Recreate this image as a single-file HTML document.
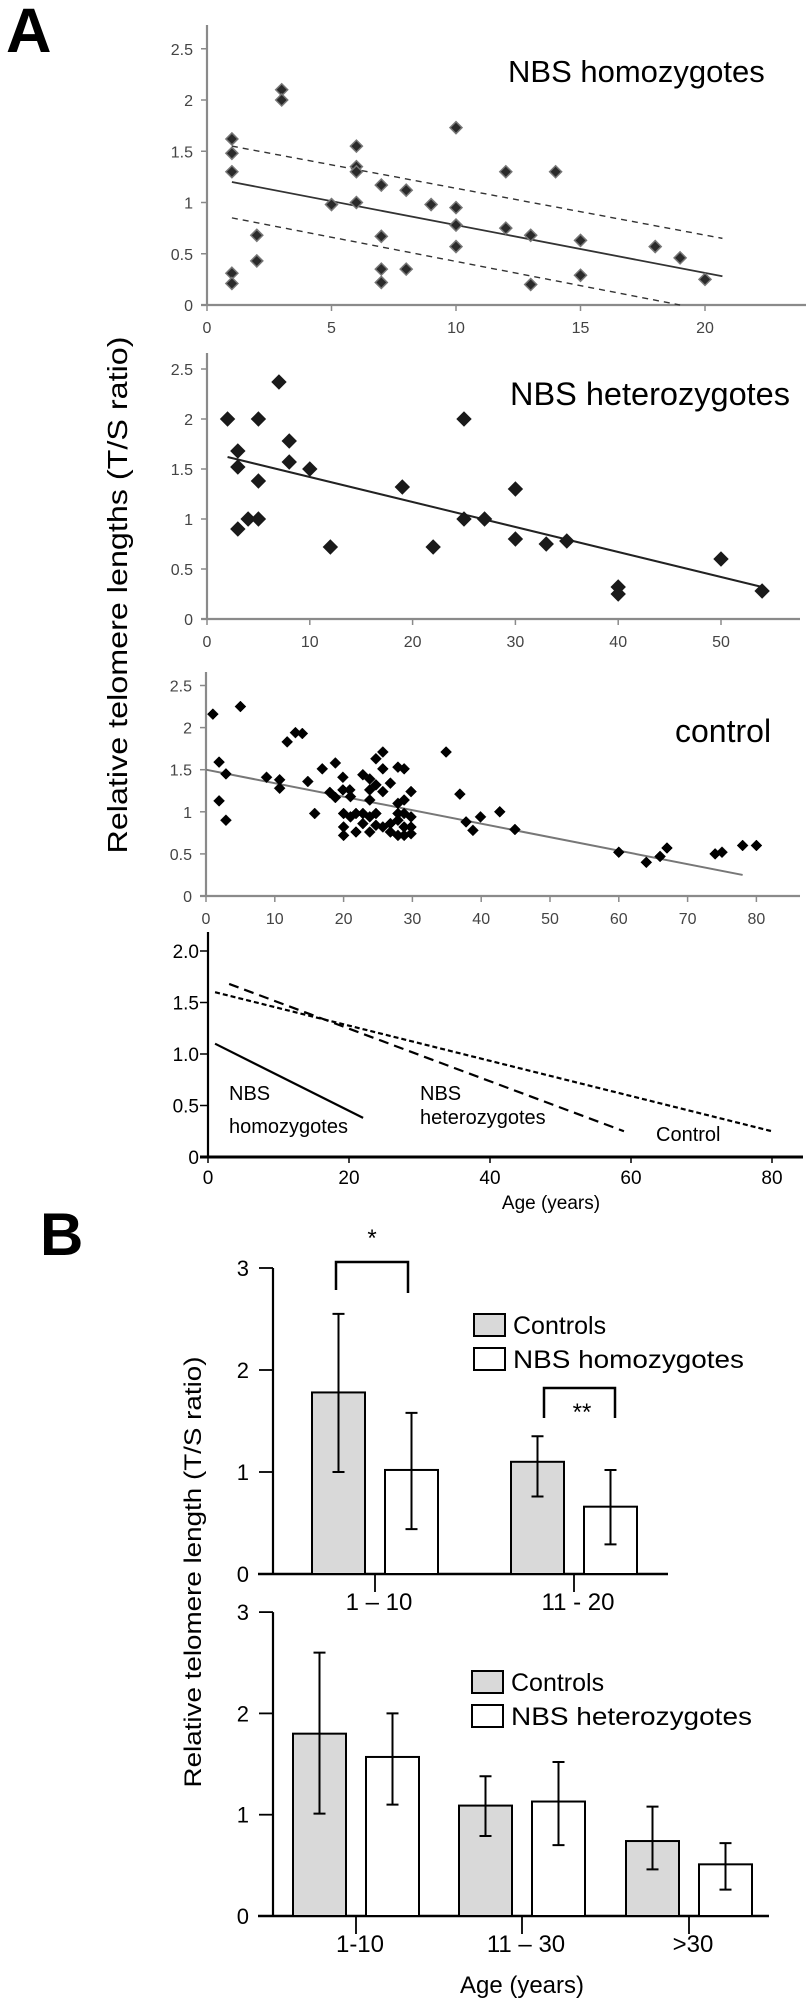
<!DOCTYPE html>
<html>
<head>
<meta charset="utf-8">
<style>
html,body{margin:0;padding:0;background:#fff;}
svg{display:block;}
text{font-family:"Liberation Sans",sans-serif;}
.nar{font-family:"Liberation Sans Narrow","Liberation Sans",sans-serif;}
</style>
</head>
<body>
<svg id="fig" width="806" height="2002" viewBox="0 0 806 2002" xmlns="http://www.w3.org/2000/svg">
  <text x="6" y="52" font-size="63" font-weight="bold">A</text>
  <text x="40" y="1255" font-size="60" font-weight="bold">B</text>
  <text transform="translate(127,595) rotate(-90)" text-anchor="middle" font-size="28" textLength="517" lengthAdjust="spacingAndGlyphs">Relative telomere lengths (T/S ratio)</text>
  <text transform="translate(201,1572) rotate(-90)" text-anchor="middle" font-size="24" textLength="431" lengthAdjust="spacingAndGlyphs">Relative telomere length (T/S ratio)</text>
  <g id="g1"></g>
  <g id="g2"></g>
  <g id="g3"></g>
  <g id="g4"></g>
  <g id="g5"></g>
  <g id="g6"></g>
</svg>
<script>
// ---- Panel A1: NBS homozygotes ----
const homAge = [1,1,1,1,1,2,2,3,3,5,6,6,6,6,7,7,7,7,8,8,9,10,10,10,10,12,12,13,13,14,15,15,18,19,20];
const homTS  = [1.62,1.48,1.3,0.31,0.21,0.68,0.43,2.1,2.0,0.98,1.55,1.35,1.3,1.0,1.17,0.67,0.35,0.22,1.12,0.35,0.98,1.73,0.95,0.78,0.57,1.3,0.75,0.68,0.2,1.3,0.63,0.29,0.57,0.46,0.25];
const homFitX = [1,20.7];
const homFitY = [1.2,0.28];
const homUpX = [1,20.7];
const homUpY = [1.55,0.65];
const homLoX = [1,19];
const homLoY = [0.85,0];
const homXTicks = [0,5,10,15,20];
const homYTicks = [0,0.5,1,1.5,2,2.5];
// ---- Panel A2: NBS heterozygotes ----
const hetAge = [2,3,3,3,4,5,5,5,7,8,8,10,12,19,22,25,25,27,30,30,33,35,40,40,50,54];
const hetTS  = [2.0,1.68,1.52,0.9,1.0,2.0,1.38,1.0,2.37,1.78,1.57,1.5,0.72,1.32,0.72,2.0,1.0,1.0,1.3,0.8,0.75,0.78,0.32,0.25,0.6,0.28];
const hetFitX = [2,54];
const hetFitY = [1.62,0.32];
const hetXTicks = [0,10,20,30,40,50];
const hetYTicks = [0,0.5,1,1.5,2,2.5];
// ---- Panel A3: controls ----
const ctlAge = [1,5,1.9,2.9,1.9,2.9,11.8,13,14,8.8,10.7,10.7,14.8,15.8,16.9,18.8,18,18.8,19.9,19.9,20.9,20,20,20,21,21,21.8,21.8,22.8,22.8,22.8,23.8,23.8,23.8,23.8,23.8,24.7,24.7,24.7,24.7,25.7,25.7,25.7,25.7,26.8,26.8,26.8,27.9,27.9,27.9,27.9,27.9,28.8,28.8,28.8,28.8,28.8,29.8,29.8,29.8,29.8,34.9,36.9,37.8,38.8,39.9,42.7,44.9,60,64,66,67,74,75,78,80];
const ctlTS  = [2.16,2.25,1.59,1.45,1.13,0.9,1.83,1.94,1.93,1.41,1.38,1.28,1.36,0.98,1.51,1.58,1.23,1.17,1.41,1.26,1.26,0.98,0.82,0.72,1.18,0.94,0.98,0.76,1.44,0.98,0.86,1.39,1.26,1.14,0.94,0.76,1.63,1.32,0.98,0.84,1.71,1.51,1.24,0.82,1.34,0.86,0.76,1.53,1.1,0.98,0.9,0.72,1.51,1.14,0.98,0.82,0.72,1.24,0.94,0.82,0.74,1.71,1.21,0.88,0.78,0.94,1.0,0.79,0.52,0.4,0.47,0.57,0.5,0.52,0.6,0.6];
const ctlFitX = [0,78];
const ctlFitY = [1.5,0.25];
const ctlXTicks = [0,10,20,30,40,50,60,70,80];
const ctlYTicks = [0,0.5,1,1.5,2,2.5];
// ---- Panel A4: regression comparison ----
const cmpHomX = [1,22];   const cmpHomY = [1.1,0.38];
const cmpHetX = [3,59];   const cmpHetY = [1.68,0.25];
const cmpCtlX = [1,80];   const cmpCtlY = [1.6,0.25];
const cmpXTicks = [0,20,40,60,80];
const cmpYTicks = [0,0.5,1.0,1.5,2.0];
// ---- Panel B1: controls vs homozygotes ----
const b1Groups = ["1 \u2013 10","11 - 20"];
const b1Ctl = [1.78,1.10];
const b1CtlLo = [1.0,0.76];
const b1CtlHi = [2.55,1.35];
const b1Nbs = [1.02,0.66];
const b1NbsLo = [0.44,0.29];
const b1NbsHi = [1.58,1.02];
const b1Sig = ["*","**"];
const b1YTicks = [0,1,2,3];
// ---- Panel B2: controls vs heterozygotes ----
const b2Groups = ["1-10","11 \u2013 30",">30"];
const b2Ctl = [1.80,1.09,0.74];
const b2CtlLo = [1.01,0.79,0.46];
const b2CtlHi = [2.60,1.38,1.08];
const b2Het = [1.57,1.13,0.51];
const b2HetLo = [1.10,0.70,0.26];
const b2HetHi = [2.0,1.52,0.72];
const b2YTicks = [0,1,2,3];

const NS="http://www.w3.org/2000/svg";
function mk(parent,tag,attrs,txt){
  const e=document.createElementNS(NS,tag);
  for(const k in attrs) e.setAttribute(k,attrs[k]);
  if(txt!==undefined) e.textContent=txt;
  parent.appendChild(e); return e;
}
function lin(d0,d1,r0,r1){return v=>r0+(v-d0)*(r1-r0)/(d1-d0);}
function fmt(v,fixed){return fixed?v.toFixed(1):String(v);}

function scatterPanel(g,o){
  const sx=lin(0,1,o.x0,o.x0+o.kx), sy=lin(0,1,o.y0,o.y0-o.ky);
  let a=mk(g,'line',{x1:o.x0,y1:o.top,x2:o.x0,y2:o.y0,stroke:'#8a8a8a','stroke-width':2.2});
  
  
  a=mk(g,'line',{x1:o.x0-6,y1:o.y0,x2:o.right,y2:o.y0,stroke:'#8a8a8a','stroke-width':2.2});
  
  
  o.yt.forEach(v=>{
    const y=sy(v);
    mk(g,'line',{x1:o.x0-6,y1:y,x2:o.x0,y2:y,stroke:'#8a8a8a','stroke-width':1.5});
    const t=mk(g,'text',{x:o.x0-14,y:y+6,'text-anchor':'end','font-size':16,fill:'#444'},String(v));
    
    
  });
  o.xt.forEach(v=>{
    const x=sx(v);
    mk(g,'line',{x1:x,y1:o.y0,x2:x,y2:o.y0+6,stroke:'#8a8a8a','stroke-width':1.5});
    const t=mk(g,'text',{x:x,y:o.y0+28,'text-anchor':'middle','font-size':16,fill:'#444'},String(v));
    
    
  });
  o.lines.forEach(L=>{
    const l=mk(g,'line',{x1:sx(L.x[0]),y1:sy(L.y[0]),x2:sx(L.x[1]),y2:sy(L.y[1]),stroke:L.c,'stroke-width':L.w,'stroke-dasharray':L.dash||'none'});
    
    
  });
  const s=o.ms;
  o.xs.forEach((xv,i)=>{
    const x=sx(xv), y=sy(o.ys[i]);
    const p=mk(g,'path',{d:`M${x},${y-s}L${x+s},${y}L${x},${y+s}L${x-s},${y}Z`,fill:o.mfill,stroke:o.mstroke,'stroke-width':o.msw});
    
    
  });
  const t=mk(g,'text',{x:o.tx,y:o.ty,'font-size':o.tfs},o.title);
  
  
}

scatterPanel(document.getElementById('g1'),{x0:207,y0:305,kx:24.9,ky:102.5,top:25,right:806,
  xt:homXTicks,yt:homYTicks,xs:homAge,ys:homTS,ms:6,mfill:'#2a2a2a',mstroke:'#777',msw:1.5,
  lines:[{x:homFitX,y:homFitY,c:'#333',w:1.8,name:'regression-line'},
         {x:homUpX,y:homUpY,c:'#333',w:1.4,dash:'6 5',name:'upper-confidence-line'},
         {x:homLoX,y:homLoY,c:'#333',w:1.4,dash:'6 5',name:'lower-confidence-line'}],
  title:'NBS homozygotes',tx:508,ty:82,tfs:31});
scatterPanel(document.getElementById('g2'),{x0:207,y0:619,kx:10.28,ky:100,top:353,right:800,
  xt:hetXTicks,yt:hetYTicks,xs:hetAge,ys:hetTS,ms:7,mfill:'#1a1a1a',mstroke:'#1a1a1a',msw:1,
  lines:[{x:hetFitX,y:hetFitY,c:'#222',w:2,name:'regression-line'}],
  title:'NBS heterozygotes',tx:510,ty:405,tfs:32.5});
scatterPanel(document.getElementById('g3'),{x0:206,y0:896,kx:6.88,ky:84.2,top:672,right:800,
  xt:ctlXTicks,yt:ctlYTicks,xs:ctlAge,ys:ctlTS,ms:5.5,mfill:'#000',mstroke:'#000',msw:0.5,
  lines:[{x:ctlFitX,y:ctlFitY,c:'#777',w:2,name:'regression-line'}],
  title:'control',tx:675,ty:742,tfs:32});

(function(){
  const g=document.getElementById('g4');
  const x0=208,y0=1157,kx=7.05,ky=103;
  const sx=lin(0,1,x0,x0+kx), sy=lin(0,1,y0,y0-ky);
  let a=mk(g,'line',{x1:x0,y1:932,x2:x0,y2:y0,stroke:'#000','stroke-width':2.2});
  
  
  a=mk(g,'line',{x1:x0-8,y1:y0,x2:803,y2:y0,stroke:'#000','stroke-width':3});
  
  
  cmpYTicks.forEach(v=>{
    const y=sy(v);
    mk(g,'line',{x1:x0-8,y1:y,x2:x0,y2:y,stroke:'#000','stroke-width':1.5});
    const t=mk(g,'text',{x:x0-9,y:y+7,'text-anchor':'end','font-size':19,'class':'nar'},v===0?'0':fmt(v,true));
    
    
  });
  cmpXTicks.forEach(v=>{
    const x=sx(v);
    mk(g,'line',{x1:x,y1:y0,x2:x,y2:y0+6,stroke:'#000','stroke-width':1.5});
    const t=mk(g,'text',{x:x,y:y0+27,'text-anchor':'middle','font-size':19,'class':'nar'},String(v));
    
    
  });
  const L=[[cmpHomX,cmpHomY,'none',2.2,'homozygotes-line'],[cmpHetX,cmpHetY,'10 6',2.2,'heterozygotes-line'],[cmpCtlX,cmpCtlY,'5 3',2.2,'control-line']];
  L.forEach(l=>{
    const e=mk(g,'line',{x1:sx(l[0][0]),y1:sy(l[1][0]),x2:sx(l[0][1]),y2:sy(l[1][1]),stroke:'#000','stroke-width':l[3],'stroke-dasharray':l[2]});
    
    
  });
  const labs=[['NBS',229,1100,'homozygotes-label-1'],['homozygotes',229,1133,'homozygotes-label-2'],['NBS',420,1100,'heterozygotes-label-1'],['heterozygotes',420,1124,'heterozygotes-label-2'],['Control',656,1141,'control-label']];
  labs.forEach(l=>{
    const t=mk(g,'text',{x:l[1],y:l[2],'font-size':20,'class':'nar'},l[0]);
    
    
  });
  const t=mk(g,'text',{x:551,y:1209,'text-anchor':'middle','font-size':19,'class':'nar'},'Age (years)');
  
  
})();

function barPanel(g,o){
  const sy=lin(0,1,o.y0,o.y0-o.ky);
  let a=mk(g,'line',{x1:o.x0,y1:sy(3),x2:o.x0,y2:o.y0,stroke:'#000','stroke-width':2.2});
  
  
  a=mk(g,'line',{x1:o.x0-15,y1:o.y0,x2:o.right,y2:o.y0,stroke:'#000','stroke-width':2.5});
  
  
  o.yt.forEach(v=>{
    const y=sy(v);
    mk(g,'line',{x1:o.x0-14,y1:y,x2:o.x0,y2:y,stroke:'#000','stroke-width':1.8});
    const t=mk(g,'text',{x:o.x0-24,y:y+8,'text-anchor':'end','font-size':22,'class':'nar'},String(v));
    
    
  });
  const bw=53;
  o.groups.forEach((gname,i)=>{
    const gx=o.gx[i];
    const series=[[o.a,o.aLo,o.aHi,'#d9d9d9',gx-bw-10,'control-bar'],[o.b,o.bLo,o.bHi,'#fff',gx+10,'patient-bar']];
    series.forEach(s=>{
      const x=s[4], top=sy(s[0][i]);
      const r=mk(g,'rect',{x:x,y:top,width:bw,height:o.y0-top,fill:s[3],stroke:'#000','stroke-width':2});
      
      
      const cx=x+bw/2;
      const e=mk(g,'path',{d:`M${cx},${sy(s[1][i])}V${sy(s[2][i])}M${cx-6},${sy(s[1][i])}H${cx+6}M${cx-6},${sy(s[2][i])}H${cx+6}`,stroke:'#000','stroke-width':2,fill:'none'});
      
      
    });
    mk(g,'line',{x1:gx,y1:o.y0,x2:gx,y2:o.y0+18,stroke:'#000','stroke-width':1.8});
    const t=mk(g,'text',{x:gx+4,y:o.y0+36,'text-anchor':'middle','font-size':24,'class':'nar'},gname);
    
    
  });
  const lg=[['Controls','#d9d9d9',o.ly,0],[o.bName,'#fff',o.ly+34,o.bLen]];
  lg.forEach(l=>{
    const r=mk(g,'rect',{x:o.lx,y:l[2],width:31,height:22,fill:l[1],stroke:'#000','stroke-width':2});
    
    
    const at={x:o.lx+39,y:l[2]+20,'font-size':25,'class':'nar'};
    if(l[3]){at.textLength=l[3];at.lengthAdjust='spacingAndGlyphs';}
    const t=mk(g,'text',at,l[0]);
    
    
  });
}

barPanel(document.getElementById('g5'),{x0:273,y0:1574,ky:102,right:668,yt:b1YTicks,gx:[375,574],groups:b1Groups,
  a:b1Ctl,aLo:b1CtlLo,aHi:b1CtlHi,b:b1Nbs,bLo:b1NbsLo,bHi:b1NbsHi,bName:'NBS homozygotes',bLen:231,lx:474,ly:1314});
barPanel(document.getElementById('g6'),{x0:273,y0:1916,ky:101.3,right:769,yt:b2YTicks,gx:[356,522,689],groups:b2Groups,
  a:b2Ctl,aLo:b2CtlLo,aHi:b2CtlHi,b:b2Het,bLo:b2HetLo,bHi:b2HetHi,bName:'NBS heterozygotes',bLen:241,lx:472,ly:1671});

(function(){
  const g=document.getElementById('g5');
  const br=[[336,408,1262,1290,1293,372,1246],[544,615,1388,1418,1418,582,1420]];
  br.forEach((b,i)=>{
    const p=mk(g,'path',{d:`M${b[0]},${b[3]}V${b[2]}H${b[1]}V${b[4]}`,stroke:'#000','stroke-width':2.5,fill:'none'});
    
    
    const t=mk(g,'text',{x:b[5],y:b[6],'text-anchor':'middle','font-size':24},b1Sig[i]);
    
    
  });
  const t=mk(g,'text',{x:522,y:1993,'text-anchor':'middle','font-size':24,'class':'nar'},'Age (years)');
  
  
})();
</script>
</body>
</html>
